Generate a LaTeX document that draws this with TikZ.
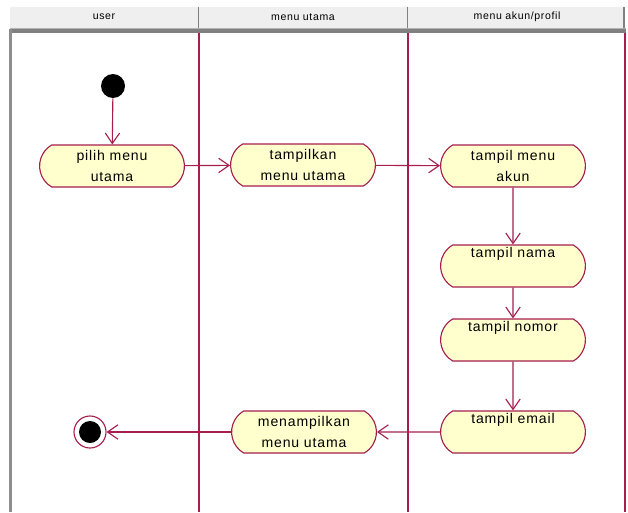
\documentclass[tikz,border=0pt]{standalone}
\usepackage{fontspec}
\setmainfont{Liberation Sans}[LetterSpace=6]
\usetikzlibrary{arrows.meta, shapes.misc}
\definecolor{lane}{RGB}{165,30,78}
\definecolor{actfill}{RGB}{255,255,206}
\definecolor{headfill}{RGB}{239,239,239}
\definecolor{headline}{RGB}{128,128,128}

\begin{document}
\begin{tikzpicture}[x=0.025cm,y=-0.025cm]
					\tikzstyle{activity}=[rounded rectangle, rounded rectangle arc length=120, draw=lane, fill=actfill, line width=0.8pt, minimum width=3.62cm, minimum height=1.05cm, inner sep=0pt, align=center, font=\fontsize{10}{14.5}\selectfont]
					\tikzstyle{flow}=[draw=lane, line width=0.8pt, -{Straight Barb[length=2.6mm,width=3.6mm]}]
					\tikzstyle{lanehead}=[font=\fontsize{7.5}{9}\selectfont]
					\useasboundingbox (0,0) rectangle (628,512);
					% swimlane header
					\fill[headfill] (10,7) rectangle (625,28);
					\draw[headline, line width=1.4pt] (198.5,7) -- (198.5,28) (407.5,7) -- (407.5,28) (624,7) -- (624,28);
					\node[lanehead] (huser) at (104,17) {user};
					\node[lanehead] (hmenu) at (303,17) {menu utama};
					\node[lanehead] (hakun) at (517,17) {menu akun/profil};
					\draw[headline!60, line width=0.7pt] (10,28.5) -- (626,28.5);
					\draw[headline, line width=2.2pt] (10,31) -- (626,31);
					\draw[headline!90, line width=1.8pt] (10.5,29) -- (10.5,512);
					\draw[lane, line width=0.85pt] (199,33) -- (199,512) (408,33) -- (408,512) (625,33) -- (625,512);
					% nodes
					\fill[black] (113,86) circle (12) coordinate (start);
					\node[circle, minimum size=0.6cm, inner sep=0pt] (startnode) at (113,86) {};
					\node[activity] (pilih) at (112,166) {pilih menu\\utama};
					\node[activity] (tampilkan) at (303,165) {tampilkan\\menu utama};
					\node[activity] (akun) at (513,166) {tampil menu\\akun};
					\node[activity] (nama) at (513,266) {tampil nama\\\strut};
					\node[activity] (nomor) at (513,340) {tampil nomor\\\strut};
					\node[activity] (email) at (513,432) {tampil email\\\strut};
					\node[activity] (menampilkan) at (304,432) {menampilkan\\menu utama};
					\node[circle, draw=lane, fill=white, line width=0.8pt, minimum size=0.8cm, inner sep=0pt] (finish) at (90,432) {};
					\fill[black] (finish) circle (11);
					% flows
					\draw[flow] (startnode) -- (pilih);
					\draw[flow] (pilih) -- (tampilkan);
					\draw[flow] (tampilkan) -- (akun);
					\draw[flow] (akun) -- (nama);
					\draw[flow] (nama) -- (nomor);
					\draw[flow] (nomor) -- (email);
					\draw[flow] (email) -- (menampilkan);
					\draw[flow] (menampilkan) -- (finish);
				\end{tikzpicture}
\end{document}
